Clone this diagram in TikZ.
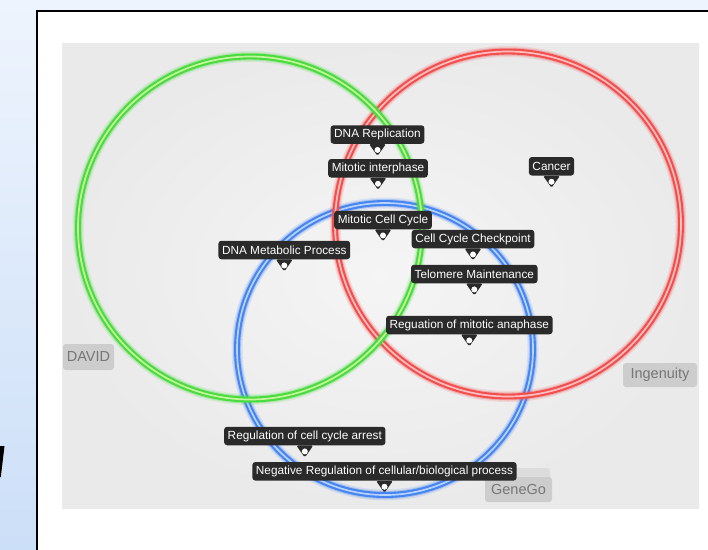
\documentclass[tikz,border=0pt]{standalone}
\usepackage{fontspec}
\setmainfont{Liberation Sans}
\definecolor{bgtop}{HTML}{EEF4FD}
\definecolor{bgbot}{HTML}{CCDFF8}
\definecolor{panelgray}{HTML}{EAEAEA}
\definecolor{labfill}{HTML}{2A2A2A}
\definecolor{taggray}{HTML}{CDCDCD}
\definecolor{taglight}{HTML}{DCDCDC}
\definecolor{tagtext}{HTML}{767676}
\definecolor{grn}{HTML}{4ADB40}
\definecolor{grnlt}{HTML}{C4F79A}
\definecolor{rd}{HTML}{F24E4E}
\definecolor{rdlt}{HTML}{FFBFBF}
\definecolor{bl}{HTML}{4684F0}
\definecolor{bllt}{HTML}{B6D2FF}
\tikzset{
  x=1pt, y=-1pt,
  vlab/.style={fill=labfill, rounded corners=3pt, text=white,
    font=\fontsize{11.8}{12}\selectfont, inner xsep=3.6pt, inner ysep=0pt,
    minimum height=18.5pt},
  tagbox/.style={fill=taggray, rounded corners=3pt, text=tagtext,
    font=\fontsize{14.5}{15}\selectfont, inner sep=0pt},
  ringglowa/.style={line width=11pt, opacity=0.15},
  ringglowb/.style={line width=8pt, opacity=0.3},
  ring/.style={line width=2.1pt, double distance=1.7pt}
}
\newcommand\mylab[4]{%
  \node[vlab] (#1) at (#2,#3) {#4};
  \fill[labfill, rounded corners=1.5pt] ([xshift=-8.5pt]#1.south) -- ([yshift=-12pt]#1.south) -- ([xshift=8.5pt]#1.south) -- cycle;
  \fill[white] ([yshift=-6pt]#1.south) circle (3pt);
}
\newcommand\myring[4]{% colour, light colour, centre, radii
  \draw[#1, ringglowa] #3 ellipse #4;
  \draw[#1, ringglowb] #3 ellipse #4;
  \draw[#1, ring, double=#2] #3 ellipse #4;
}
\begin{document}
\begin{tikzpicture}
\useasboundingbox (0,0) rectangle (708,549);
\clip (0,0) rectangle (708,549);
% slide background
\shade[top color=bgtop, bottom color=bgbot] (0,0) rectangle (708,549);
% partial glyph at the left edge
\fill (0,446) -- (4.5,446) -- (0.8,477) -- (0,477) -- cycle;
% white panel
\draw[fill=white, line width=1.8pt] (37,11) rectangle (730,570);
% gray picture area
\shade[inner color=white!96!black, outer color=panelgray] (62,43) rectangle (699,508);
% rings: blue, red, green
\myring{bl}{bllt}{(385,349)}{(148 and 146)}
\myring{rd}{rdlt}{(508,224)}{(173 and 172.5)}
\myring{grn}{grnlt}{(250,228)}{(172 and 171.5)}
% source tags
\node[tagbox, minimum width=51pt, minimum height=26pt] (david) at (88.5,357) {DAVID};
\node[tagbox, minimum width=74pt, minimum height=24pt] (ingenuity) at (660,375) {Ingenuity};
\fill[taglight, rounded corners=3pt] (500,468) rectangle (550,492);
\node[tagbox, minimum width=67pt, minimum height=25pt] (genego) at (518.5,489.5) {GeneGo};
% labels
\mylab{rep}{377.5}{134.5}{DNA Replication}
\mylab{inter}{378}{168.3}{Mitotic interphase}
\mylab{mcc}{383}{220}{Mitotic Cell Cycle}
\mylab{dnam}{284.3}{250}{DNA Metabolic Process}
\mylab{ccc}{473}{239}{Cell Cycle Checkpoint}
\mylab{telo}{474.3}{274}{Telomere Maintenance}
\mylab{reg}{469.3}{325}{Reguation of mitotic anaphase}
\mylab{cancer}{551.5}{166.3}{Cancer}
\mylab{arrest}{304.8}{436}{Regulation of cell cycle arrest}
\mylab{neg}{384.5}{471.3}{Negative Regulation of cellular/biological process}
\end{tikzpicture}
\end{document}
